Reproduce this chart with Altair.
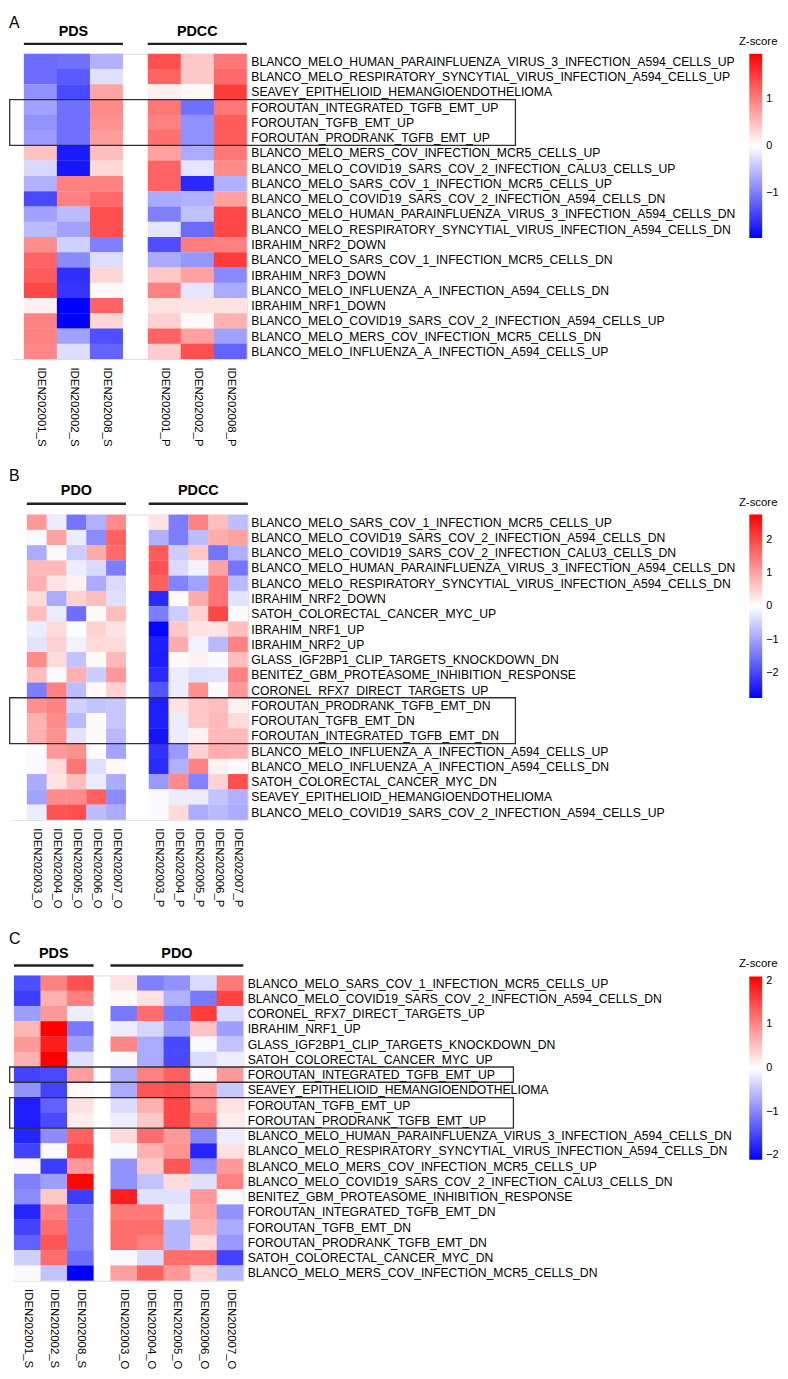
import altair as alt
import pandas as pd

FONT = "Liberation Sans"

# ---------------- Panel A ----------------
A_rows = [
    "BLANCO_MELO_HUMAN_PARAINFLUENZA_VIRUS_3_INFECTION_A594_CELLS_UP",
    "BLANCO_MELO_RESPIRATORY_SYNCYTIAL_VIRUS_INFECTION_A594_CELLS_UP",
    "SEAVEY_EPITHELIOID_HEMANGIOENDOTHELIOMA",
    "FOROUTAN_INTEGRATED_TGFB_EMT_UP",
    "FOROUTAN_TGFB_EMT_UP",
    "FOROUTAN_PRODRANK_TGFB_EMT_UP",
    "BLANCO_MELO_MERS_COV_INFECTION_MCR5_CELLS_UP",
    "BLANCO_MELO_COVID19_SARS_COV_2_INFECTION_CALU3_CELLS_UP",
    "BLANCO_MELO_SARS_COV_1_INFECTION_MCR5_CELLS_UP",
    "BLANCO_MELO_COVID19_SARS_COV_2_INFECTION_A594_CELLS_DN",
    "BLANCO_MELO_HUMAN_PARAINFLUENZA_VIRUS_3_INFECTION_A594_CELLS_DN",
    "BLANCO_MELO_RESPIRATORY_SYNCYTIAL_VIRUS_INFECTION_A594_CELLS_DN",
    "IBRAHIM_NRF2_DOWN",
    "BLANCO_MELO_SARS_COV_1_INFECTION_MCR5_CELLS_DN",
    "IBRAHIM_NRF3_DOWN",
    "BLANCO_MELO_INFLUENZA_A_INFECTION_A594_CELLS_DN",
    "IBRAHIM_NRF1_DOWN",
    "BLANCO_MELO_COVID19_SARS_COV_2_INFECTION_A594_CELLS_UP",
    "BLANCO_MELO_MERS_COV_INFECTION_MCR5_CELLS_DN",
    "BLANCO_MELO_INFLUENZA_A_INFECTION_A594_CELLS_UP",
]
A_left_cols = ["IDEN202001_S", "IDEN202002_S", "IDEN202008_S"]
A_right_cols = ["IDEN202001_P", "IDEN202002_P", "IDEN202008_P"]
A_groups = ["PDS", "PDCC"]
A_left_z = [
    [-1.14, -1.10, -0.60],
    [-1.14, -1.27, -0.23],
    [-0.85, -1.40, 0.70],
    [-0.72, -1.10, 0.90],
    [-0.83, -1.10, 0.85],
    [-0.78, -1.10, 0.75],
    [0.48, -1.75, 0.50],
    [-0.30, -1.80, 0.30],
    [-0.60, 0.98, 0.98],
    [-1.40, 0.98, 1.15],
    [-0.72, -0.52, 1.35],
    [-0.52, -0.72, 1.35],
    [0.88, -0.36, -0.98],
    [1.20, -0.90, -0.26],
    [1.25, -1.60, 0.32],
    [1.40, -1.55, 0.05],
    [0.12, -1.96, 1.20],
    [0.98, -1.96, 0.32],
    [0.98, -0.72, -1.35],
    [0.92, -0.26, -1.20],
]
A_right_z = [
    [1.35, 0.42, 1.05],
    [1.20, 0.42, 1.15],
    [0.12, 0.05, 1.50],
    [1.05, -1.10, 1.05],
    [0.98, -0.85, 1.25],
    [1.10, -0.85, 1.25],
    [0.72, -0.65, 1.05],
    [1.20, -0.20, 0.90],
    [1.20, -1.65, -0.60],
    [-0.65, -0.60, 0.72],
    [-0.98, -0.48, 1.40],
    [-0.20, -1.14, 1.40],
    [-1.35, 1.00, 0.98],
    [-0.65, -0.80, 1.50],
    [0.42, 0.72, -0.90],
    [0.98, -0.20, -0.65],
    [0.22, 0.22, 0.22],
    [0.36, 0.05, 0.60],
    [1.20, 0.72, -0.72],
    [0.40, 1.35, -1.20],
]
A_boxes = [(3, 5)]
A_zmax = 1.96
A_ticks = [1, 0, -1]

# ---------------- Panel B ----------------
B_rows = [
    "BLANCO_MELO_SARS_COV_1_INFECTION_MCR5_CELLS_UP",
    "BLANCO_MELO_COVID19_SARS_COV_2_INFECTION_A594_CELLS_DN",
    "BLANCO_MELO_COVID19_SARS_COV_2_INFECTION_CALU3_CELLS_DN",
    "BLANCO_MELO_HUMAN_PARAINFLUENZA_VIRUS_3_INFECTION_A594_CELLS_DN",
    "BLANCO_MELO_RESPIRATORY_SYNCYTIAL_VIRUS_INFECTION_A594_CELLS_DN",
    "IBRAHIM_NRF2_DOWN",
    "SATOH_COLORECTAL_CANCER_MYC_UP",
    "IBRAHIM_NRF1_UP",
    "IBRAHIM_NRF2_UP",
    "GLASS_IGF2BP1_CLIP_TARGETS_KNOCKDOWN_DN",
    "BENITEZ_GBM_PROTEASOME_INHIBITION_RESPONSE",
    "CORONEL_RFX7_DIRECT_TARGETS_UP",
    "FOROUTAN_PRODRANK_TGFB_EMT_DN",
    "FOROUTAN_TGFB_EMT_DN",
    "FOROUTAN_INTEGRATED_TGFB_EMT_DN",
    "BLANCO_MELO_INFLUENZA_A_INFECTION_A594_CELLS_UP",
    "BLANCO_MELO_INFLUENZA_A_INFECTION_A594_CELLS_DN",
    "SATOH_COLORECTAL_CANCER_MYC_DN",
    "SEAVEY_EPITHELIOID_HEMANGIOENDOTHELIOMA",
    "BLANCO_MELO_COVID19_SARS_COV_2_INFECTION_A594_CELLS_UP",
]
B_left_cols = ["IDEN202003_O", "IDEN202004_O", "IDEN202005_O", "IDEN202006_O", "IDEN202007_O"]
B_right_cols = ["IDEN202003_P", "IDEN202004_P", "IDEN202005_P", "IDEN202006_P", "IDEN202007_P"]
B_groups = ["PDO", "PDCC"]
B_left_z = [
    [1.10, -0.20, -1.50, -0.85, 1.25],
    [-0.05, 1.00, -0.20, -1.25, 1.70],
    [-0.90, -0.05, -0.55, 0.90, 1.60],
    [0.75, 0.75, -0.20, -0.40, -1.40],
    [0.85, 0.30, 0.15, -0.90, -0.40],
    [0.40, -0.90, 0.50, 0.70, -0.35],
    [0.70, -0.20, -1.55, 0.05, 0.70],
    [-0.20, 0.40, 0.03, 0.50, 0.30],
    [-0.30, 0.50, -0.15, 0.40, 0.40],
    [1.25, 0.40, -0.65, 0.05, 0.75],
    [0.70, -0.05, 0.85, -0.55, 1.10],
    [-1.40, 1.35, -0.70, 0.05, 0.50],
    [1.20, 1.35, -0.50, -0.65, -0.60],
    [0.85, 1.25, -0.75, -0.05, -0.60],
    [0.85, 1.20, -0.30, 0.05, -0.75],
    [-0.05, 1.10, 1.20, 0.05, -1.00],
    [-0.05, 0.40, 1.50, -0.35, 0.05],
    [-0.90, 0.30, 0.70, -0.20, -0.90],
    [-1.00, 1.25, 1.25, 1.70, -1.25],
    [-0.20, 1.85, 1.90, -0.70, -0.90],
]
B_right_z = [
    [0.30, -1.40, 1.35, 0.70, -0.70],
    [-0.85, -1.40, -0.70, 0.90, 1.00],
    [1.75, -0.55, 0.60, -1.50, -0.85],
    [1.85, -0.40, -0.15, 1.00, -1.50],
    [1.70, -1.35, -1.00, 1.50, -0.75],
    [-2.30, 0.05, 0.90, 1.50, -0.30],
    [-1.40, -0.55, 0.50, 2.00, 0.05],
    [-2.70, 0.60, 0.30, 0.30, 0.70],
    [-2.40, 0.90, -0.15, -0.75, 1.35],
    [-2.45, 0.05, 0.15, -0.05, 0.70],
    [-2.30, -0.20, -0.35, -0.30, 1.35],
    [-1.85, -0.20, 1.20, 0.05, 1.10],
    [-2.40, 0.30, 0.60, 0.70, 0.15],
    [-2.40, -0.20, 0.60, 0.75, 0.40],
    [-2.55, -0.20, 0.15, 0.75, 0.75],
    [-2.20, -1.10, 0.50, 0.90, 0.85],
    [-2.30, -0.85, 1.35, 0.15, -0.05],
    [-1.10, 1.25, -1.35, 0.50, 1.90],
    [-0.05, -0.20, -0.20, -0.65, -0.85],
    [-0.05, 0.40, -0.90, -0.75, -0.90],
]
B_boxes = [(12, 14)]
B_zmax = 2.75
B_ticks = [2, 1, 0, -1, -2]

# ---------------- Panel C ----------------
C_rows = [
    "BLANCO_MELO_SARS_COV_1_INFECTION_MCR5_CELLS_UP",
    "BLANCO_MELO_COVID19_SARS_COV_2_INFECTION_A594_CELLS_DN",
    "CORONEL_RFX7_DIRECT_TARGETS_UP",
    "IBRAHIM_NRF1_UP",
    "GLASS_IGF2BP1_CLIP_TARGETS_KNOCKDOWN_DN",
    "SATOH_COLORECTAL_CANCER_MYC_UP",
    "FOROUTAN_INTEGRATED_TGFB_EMT_UP",
    "SEAVEY_EPITHELIOID_HEMANGIOENDOTHELIOMA",
    "FOROUTAN_TGFB_EMT_UP",
    "FOROUTAN_PRODRANK_TGFB_EMT_UP",
    "BLANCO_MELO_HUMAN_PARAINFLUENZA_VIRUS_3_INFECTION_A594_CELLS_DN",
    "BLANCO_MELO_RESPIRATORY_SYNCYTIAL_VIRUS_INFECTION_A594_CELLS_DN",
    "BLANCO_MELO_MERS_COV_INFECTION_MCR5_CELLS_UP",
    "BLANCO_MELO_COVID19_SARS_COV_2_INFECTION_CALU3_CELLS_DN",
    "BENITEZ_GBM_PROTEASOME_INHIBITION_RESPONSE",
    "FOROUTAN_INTEGRATED_TGFB_EMT_DN",
    "FOROUTAN_TGFB_EMT_DN",
    "FOROUTAN_PRODRANK_TGFB_EMT_DN",
    "SATOH_COLORECTAL_CANCER_MYC_DN",
    "BLANCO_MELO_MERS_COV_INFECTION_MCR5_CELLS_DN",
]
C_left_cols = ["IDEN202001_S", "IDEN202002_S", "IDEN202008_S"]
C_right_cols = ["IDEN202003_O", "IDEN202004_O", "IDEN202005_O", "IDEN202006_O", "IDEN202007_O"]
C_groups = ["PDS", "PDO"]
C_left_z = [
    [-1.45, 1.05, 1.45],
    [-1.60, 0.65, 1.05],
    [-0.80, 0.85, -0.15],
    [0.60, 2.10, -1.10],
    [0.85, 1.85, -0.80],
    [0.65, 2.10, -0.25],
    [-1.55, -1.50, 0.80],
    [-0.90, -1.55, 0.05],
    [-1.85, -1.30, 0.25],
    [-1.85, -1.50, 0.15],
    [-1.80, -0.95, 1.30],
    [-1.55, -0.05, 1.50],
    [0.05, -1.60, 0.85],
    [-1.05, -0.80, 2.05],
    [-0.95, 0.45, -1.60],
    [-1.80, 1.05, -1.05],
    [-1.55, 1.20, -1.05],
    [-1.30, 1.40, -1.05],
    [-0.40, 1.20, -1.20],
    [-0.05, -0.50, -2.10],
]
C_right_z = [
    [0.25, -1.05, -0.90, -0.30, 1.10],
    [0.05, 0.25, -0.65, -1.10, 1.55],
    [-1.10, 1.20, -1.10, 1.60, -0.30],
    [-0.15, -0.35, -0.80, 0.50, -0.80],
    [1.00, -0.70, -1.50, -0.05, -0.50],
    [-0.05, -0.70, -1.50, -0.30, -0.15],
    [-0.70, 1.05, 1.30, -0.05, 0.85],
    [-0.70, 1.40, 1.45, 0.90, -0.45],
    [-0.30, 0.65, 1.50, 0.90, 0.25],
    [-0.15, 0.45, 1.50, 1.10, 0.15],
    [0.30, 1.20, 0.85, -1.00, -0.15],
    [-0.05, 0.65, 0.90, -1.80, 0.25],
    [-0.90, 0.45, 1.40, -0.90, 0.85],
    [-0.90, -0.50, 0.30, -0.25, 1.05],
    [1.85, -0.25, -0.25, 0.85, -0.05],
    [1.10, 1.10, -0.15, 0.75, -0.90],
    [1.20, 1.20, -0.60, 0.65, -0.70],
    [1.20, 1.05, -0.60, 0.30, -0.85],
    [-0.05, -0.30, 1.20, 1.20, -1.55],
    [0.80, 1.30, 0.85, 0.35, -0.60],
]
C_boxes = [(6, 6), (8, 9)]
C_zmax = 2.1
C_ticks = [2, 1, 0, -1, -2]

# ---------------- layout (pixels, relative to each plot's left/top) ----------------
LAYOUT = {
    "A": dict(off=11, cw=33.33, gap=25, height=308, letter_y=-39, head_y=-22, rule_y=-10,
              label_pad=4, box_right=507, legend_y=0, legend_len=186),
    "B": dict(off=14, cw=20.0, gap=23, height=308, letter_y=-47, head_y=-24, rule_y=-11,
              label_pad=3, box_right=507, legend_y=0, legend_len=185),
    "C": dict(off=1, cw=26.8, gap=17, height=308, letter_y=-45, head_y=-22, rule_y=-10,
              label_pad=4, box_right=505, legend_y=1, legend_len=185),
}
LEGEND_X = 743
ZTITLE_X = 752
OVERLAP = 0.015  # tiny overlap so adjacent cells show no hairline seams


def panel(letter, rows, lcols, rcols, groups, lz, rz, boxes, zmax, ticks, lay):
    cw = lay["cw"]
    off = round(lay["off"] / cw, 4)
    gap = round(lay["gap"] / cw, 4)
    n1, n2 = len(lcols), len(rcols)
    starts = [round(off + j, 4) for j in range(n1)] + \
             [round(off + n1 + gap + j, 4) for j in range(n2)]
    cols = lcols + rcols
    xmax = round(starts[-1] + 1, 4)
    width = xmax * cw
    nrow = len(rows)

    recs = []
    for i, r in enumerate(rows):
        vals = list(lz[i]) + list(rz[i])
        for j, c in enumerate(cols):
            right_edge = (j == n1 - 1) or (j == n1 + n2 - 1)
            recs.append(dict(row=r, col=c, x0=starts[j],
                             x1=round(starts[j] + 1 + (0 if right_edge else OVERLAP), 4),
                             y0=i, y1=i + 1 + (0 if i == nrow - 1 else OVERLAP), z=vals[j]))
    cells = pd.DataFrame(recs)

    centers = [round(s + 0.5, 4) for s in starts]
    xaxis = alt.Axis(values=centers,
                     labelExpr=f"{cols}[indexof({centers}, datum.value)]",
                     labelAngle=90, labelAlign="left", labelBaseline="middle",
                     labelPadding=8, ticks=False, tickSize=0, domain=False, grid=False,
                     title=None, labelFont=FONT, labelFontSize=11.5, labelColor="#000000",
                     labelFlush=False, labelOverlap=False, labelBound=False, labelLimit=0)
    yvals = [i + 0.5 for i in range(nrow)]
    yaxis = alt.Axis(orient="right", values=yvals,
                     labelExpr=f"{rows}[floor(datum.value)]",
                     labelAlign="left", labelBaseline="middle",
                     labelPadding=lay["label_pad"], ticks=False, tickSize=0,
                     domain=False, grid=False, title=None, labelFont=FONT,
                     labelFontSize=12.3, labelColor="#000000", labelFlush=False,
                     labelOverlap=False, labelBound=False, labelLimit=0)
    xscale = alt.Scale(domain=[0, xmax], nice=False, zero=False)
    yscale = alt.Scale(domain=[0, nrow], reverse=True, nice=False, zero=False)
    X = alt.X("x0:Q", scale=xscale, axis=xaxis)
    Y = alt.Y("y0:Q", scale=yscale, axis=yaxis)

    cscale = alt.Scale(domain=[-zmax, 0, zmax], range=["#0000ff", "#ffffff", "#ff0000"],
                       interpolate="rgb", clamp=True)

    # white backing over the empty margin left of the first column
    mask = alt.Chart(pd.DataFrame({"x0": [0.0], "x1": [starts[0]], "y0": [0], "y1": [nrow]})
                     ).mark_rect(color="#ffffff").encode(x=X, x2="x1:Q", y=Y, y2="y1:Q")

    heat = alt.Chart(cells).mark_rect().encode(
        x=X, x2="x1:Q", y=Y, y2="y1:Q",
        color=alt.Color("z:Q", scale=cscale, title=None,
                        legend=alt.Legend(type="gradient", orient="none",
                                          legendX=LEGEND_X,
                                          legendY=lay["legend_y"],
                                          direction="vertical", gradientLength=lay["legend_len"],
                                          gradientThickness=13, gradientStrokeWidth=0,
                                          values=ticks, labelFont=FONT, labelFontSize=11,
                                          labelColor="#000000", labelOffset=4, padding=0,
                                          labelOverlap=False)),
    )

    box_df = pd.DataFrame({"y0": [b[0] for b in boxes], "y1": [b[1] + 1 for b in boxes]})
    box = alt.Chart(box_df).mark_rect(filled=False, stroke="#303030", strokeWidth=1.3).encode(
        x=alt.value(-3.3), x2=alt.value(lay["box_right"]), y=Y, y2="y1:Q")

    head_df = pd.DataFrame({
        "x0": [starts[0], starts[n1]],
        "x1": [round(starts[n1 - 1] + 1, 4), xmax],
        "label": groups,
    })
    rules = alt.Chart(head_df).mark_rule(strokeWidth=2.5, color="#231f20").encode(
        x=X, x2="x1:Q", y=alt.value(lay["rule_y"]))
    head_txt = pd.DataFrame({
        "x0": [round((starts[0] + starts[n1 - 1] + 1) / 2, 4),
               round((starts[n1] + xmax) / 2, 4)],
        "label": groups,
    })
    heads = alt.Chart(head_txt).mark_text(fontSize=14.5, fontWeight="bold", align="center",
                                          baseline="middle", font=FONT, color="#000000").encode(
        x=X, y=alt.value(lay["head_y"]), text="label:N")

    letter_c = alt.Chart(pd.DataFrame({"t": [letter]})).mark_text(
        fontSize=16, align="left", baseline="top", font=FONT, color="#000000").encode(
        x=alt.value(-4), y=alt.value(lay["letter_y"]), text="t:N")
    ztitle = alt.Chart(pd.DataFrame({"t": ["Z-score"]})).mark_text(
        fontSize=11.5, align="center", baseline="middle", font=FONT, color="#000000").encode(
        x=alt.value(ZTITLE_X), y=alt.value(-12), text="t:N")

    return alt.layer(mask, heat, box, rules, heads, letter_c, ztitle).properties(
        width=width, height=lay["height"]
    )


pA = panel("A", A_rows, A_left_cols, A_right_cols, A_groups, A_left_z, A_right_z,
           A_boxes, A_zmax, A_ticks, LAYOUT["A"])
pB = panel("B", B_rows, B_left_cols, B_right_cols, B_groups, B_left_z, B_right_z,
           B_boxes, B_zmax, B_ticks, LAYOUT["B"])
pC = panel("C", C_rows, C_left_cols, C_right_cols, C_groups, C_left_z, C_right_z,
           C_boxes, C_zmax, C_ticks, LAYOUT["C"])

chart = alt.vconcat(pA, pB, pC, spacing=157, bounds="flush").resolve_scale(
    color="independent", x="independent", y="independent"
).resolve_legend(color="independent").properties(
    padding=0
).configure_view(stroke=None).configure(font=FONT)

chart.save("out.html", embed_options={"renderer": "svg", "actions": False})
